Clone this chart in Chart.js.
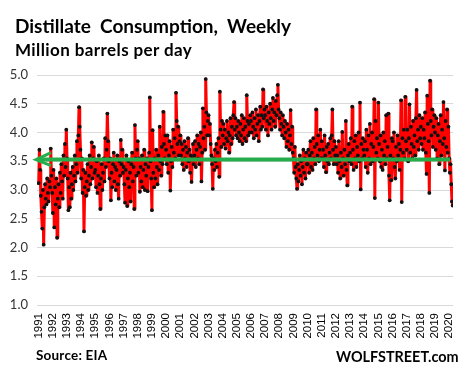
<!DOCTYPE html>
<html>
<head>
<meta charset="utf-8">
<script src="https://cdn.jsdelivr.net/npm/chart.js@4.4.1/dist/chart.umd.min.js"></script>
<style>
  html, body { margin: 0; padding: 0; background: #fff; }
  #wrap { position: relative; width: 471px; height: 374px; overflow: hidden; }
  #chart { position: absolute; left: 0; top: 0; }
  .txt { position: absolute; white-space: pre; font-family: Lato, "Open Sans", sans-serif; font-weight: bold; color: #000; line-height: 1; }
  #title { left: 15px; top: 15.5px; font-size: 19px; }
  #subtitle { left: 15px; top: 40.5px; font-size: 17px; letter-spacing: 0.4px; }
  #source { left: 36px; top: 348.5px; font-size: 13.5px; letter-spacing: 0.2px; }
  #brand { left: 336px; top: 349.5px; font-size: 14.4px; }
</style>
</head>
<body>
<div id="wrap">
  <canvas id="chart" width="471" height="374"></canvas>
  <div class="txt" id="title">Distillate  Consumption,  Weekly</div>
  <div class="txt" id="subtitle">Million barrels per day</div>
  <div class="txt" id="source">Source: EIA</div>
  <div class="txt" id="brand">WOLFSTREET.com</div>
</div>
<script>
// weekly distillate consumption, million b/d (~20 samples per year)
const d1991 = [3.12, 3.70, 3.35, 2.90, 2.62, 2.33, 3.00, 2.05, 2.70, 3.10, 2.85, 2.75, 3.20, 2.95, 2.80, 3.15, 3.05, 3.72, 3.25, 2.95];
const d1992 = [2.60, 3.35, 2.35, 3.05, 2.75, 3.20, 2.17, 2.85, 3.10, 2.70, 3.30, 2.95, 3.45, 3.15, 2.85, 3.60, 3.25, 3.80, 3.40, 4.05];
const d1993 = [3.55, 3.20, 2.65, 3.05, 2.70, 3.30, 2.85, 3.10, 3.40, 3.00, 3.25, 3.60, 3.15, 3.45, 3.85, 3.30, 3.95, 4.44, 4.10, 3.70];
const d1994 = [3.20, 3.55, 2.95, 3.35, 2.28, 3.05, 3.30, 2.90, 3.15, 3.45, 3.00, 3.25, 3.60, 3.10, 3.40, 3.83, 3.20, 3.55, 3.75, 3.30];
const d1995 = [3.35, 3.05, 3.50, 2.95, 3.25, 3.60, 3.10, 2.67, 3.20, 3.45, 3.00, 3.30, 3.55, 3.15, 3.90, 3.40, 3.70, 4.33, 3.85, 3.50];
const d1996 = [3.20, 3.55, 2.82, 3.30, 3.05, 3.45, 3.65, 3.15, 3.40, 3.00, 3.35, 3.60, 3.10, 2.85, 3.50, 3.25, 3.87, 3.45, 3.70, 3.30];
const d1997 = [3.40, 3.10, 2.78, 3.35, 3.60, 2.72, 3.20, 3.50, 3.05, 3.30, 2.80, 3.45, 3.65, 3.15, 3.40, 2.67, 4.13, 3.55, 3.25, 3.70];
const d1998 = [3.85, 3.30, 3.55, 2.97, 3.40, 3.15, 3.60, 3.05, 3.35, 3.70, 3.00, 3.45, 3.25, 3.55, 2.98, 3.40, 3.65, 4.61, 3.50, 3.20];
const d1999 = [2.65, 4.04, 3.30, 3.05, 3.55, 3.20, 3.70, 3.40, 3.10, 3.60, 3.35, 4.10, 3.50, 3.25, 3.75, 3.45, 4.36, 3.80, 3.55, 3.95];
const d2000 = [3.70, 3.45, 3.95, 3.30, 3.60, 3.85, 2.99, 3.50, 3.75, 3.40, 4.05, 3.65, 3.90, 3.55, 4.69, 4.20, 3.80, 4.10, 3.60, 3.85];
const d2001 = [3.95, 3.60, 3.80, 3.45, 3.70, 3.35, 3.85, 3.55, 3.75, 3.40, 3.65, 3.90, 3.50, 3.70, 3.30, 3.60, 3.14, 3.55, 3.80, 3.45];
const d2002 = [3.60, 3.85, 3.40, 3.70, 3.95, 3.55, 3.80, 3.45, 3.75, 4.00, 3.15, 3.65, 4.42, 3.90, 4.10, 3.70, 4.93, 4.35, 3.95, 4.20];
const d2003 = [4.30, 3.95, 4.15, 3.80, 3.60, 3.45, 3.02, 3.55, 3.35, 3.70, 3.50, 3.80, 3.40, 3.65, 3.90, 3.23, 4.71, 4.05, 3.75, 4.20];
const d2004 = [3.95, 4.15, 3.80, 4.05, 3.72, 3.90, 4.20, 3.85, 4.00, 3.65, 3.95, 4.25, 3.80, 4.10, 3.90, 4.30, 4.53, 4.05, 4.25, 3.95];
const d2005 = [4.10, 3.90, 4.20, 4.00, 3.85, 4.15, 3.95, 4.30, 3.80, 4.05, 4.25, 3.90, 4.10, 3.85, 4.65, 4.20, 3.95, 4.15, 4.00, 4.30];
const d2006 = [4.20, 4.00, 4.35, 4.10, 3.90, 4.25, 4.05, 4.40, 3.95, 4.15, 4.30, 3.85, 4.20, 4.45, 4.05, 4.30, 4.10, 4.75, 4.25, 4.40];
const d2007 = [4.30, 4.05, 4.45, 4.20, 3.95, 4.35, 4.15, 4.50, 4.25, 4.05, 4.40, 4.60, 4.20, 4.35, 4.10, 4.55, 4.30, 4.65, 4.83, 4.40];
const d2008 = [4.25, 4.05, 4.35, 4.15, 3.95, 4.30, 4.10, 3.90, 4.20, 4.00, 3.75, 4.15, 3.85, 4.05, 3.70, 3.95, 4.39, 3.80, 4.10, 3.65];
const d2009 = [3.55, 3.30, 3.75, 3.40, 3.20, 3.02, 3.45, 3.15, 3.35, 3.60, 3.25, 3.50, 3.10, 3.40, 3.70, 3.30, 3.55, 3.20, 3.65, 3.45];
const d2010 = [3.45, 3.70, 3.30, 3.60, 3.85, 3.40, 3.65, 3.35, 3.90, 3.55, 3.75, 3.45, 4.40, 3.80, 3.60, 3.95, 3.50, 3.70, 4.05, 3.55];
const d2011 = [3.85, 3.55, 3.70, 3.40, 3.95, 3.60, 3.31, 3.75, 3.50, 3.80, 3.45, 3.65, 3.90, 3.55, 3.95, 4.40, 3.70, 3.45, 3.85, 3.60];
const d2012 = [3.75, 3.45, 3.60, 3.30, 3.85, 3.50, 3.20, 3.65, 3.40, 4.01, 3.55, 3.25, 3.70, 3.45, 4.20, 3.35, 3.08, 3.60, 3.80, 3.50];
const d2013 = [3.65, 3.90, 3.45, 4.45, 3.70, 3.35, 3.85, 3.55, 3.95, 3.40, 3.75, 3.60, 4.00, 3.50, 4.52, 3.01, 3.80, 3.55, 3.90, 3.70];
const d2014 = [3.60, 3.85, 3.40, 4.05, 3.70, 3.30, 3.95, 3.55, 4.15, 3.45, 3.80, 4.00, 3.50, 3.75, 4.58, 2.86, 4.20, 3.65, 3.90, 3.55];
const d2015 = [4.52, 3.80, 3.50, 3.95, 3.40, 3.70, 3.35, 4.00, 3.60, 3.85, 3.45, 4.30, 3.55, 3.75, 4.33, 3.25, 2.82, 3.60, 3.17, 3.90];
const d2016 = [3.85, 3.55, 4.00, 3.40, 3.20, 3.75, 3.50, 3.95, 3.60, 3.80, 3.35, 3.70, 4.56, 2.79, 3.90, 3.65, 4.05, 3.55, 4.62, 3.85];
const d2017 = [3.70, 4.05, 3.50, 3.90, 4.49, 3.65, 4.10, 3.80, 3.55, 4.20, 3.75, 3.95, 3.60, 4.25, 4.74, 3.85, 4.05, 3.70, 4.30, 3.90];
const d2018 = [4.10, 3.80, 4.25, 3.70, 4.05, 3.90, 4.35, 3.65, 3.28, 4.64, 4.15, 3.85, 2.95, 4.90, 4.20, 3.95, 4.40, 3.75, 4.10, 4.30];
const d2019 = [4.00, 3.70, 4.25, 3.55, 3.95, 4.15, 3.45, 3.85, 4.30, 3.60, 4.05, 3.80, 4.53, 3.90, 3.34, 4.20, 3.75, 4.40, 3.65, 4.10];
const d2020 = [3.55, 3.30, 3.45, 3.10, 2.80, 2.73];

const years = [1991, 1992, 1993, 1994, 1995, 1996, 1997, 1998, 1999, 2000,
  2001, 2002, 2003, 2004, 2005, 2006, 2007, 2008, 2009, 2010,
  2011, 2012, 2013, 2014, 2015, 2016, 2017, 2018, 2019, 2020];
const yearlySeries = [d1991, d1992, d1993, d1994, d1995, d1996, d1997, d1998, d1999, d2000,
  d2001, d2002, d2003, d2004, d2005, d2006, d2007, d2008, d2009, d2010,
  d2011, d2012, d2013, d2014, d2015, d2016, d2017, d2018, d2019, d2020];
const yTicks = [1.0, 1.5, 2.0, 2.5, 3.0, 3.5, 4.0, 4.5, 5.0];
const avgLevel = 3.53;

const samplesPerYear = 20;
const points = [];
yearlySeries.forEach((values, i) => {
  const step = 1 / Math.max(values.length, samplesPerYear);
  values.forEach((v, k) => points.push({ x: years[i] + k * step, y: v }));
});

// green average line with an arrow head pointing left
const avgArrow = {
  id: 'avgArrow',
  afterDatasetsDraw(chart) {
    const { ctx, scales: { x, y } } = chart;
    const py = y.getPixelForValue(avgLevel);
    const x0 = x.left - 2;
    const x1 = x.right - 3;
    ctx.save();
    ctx.strokeStyle = '#25ad4b';
    ctx.lineWidth = 4;
    ctx.beginPath();
    ctx.moveTo(x0 + 2, py);
    ctx.lineTo(x1, py);
    ctx.stroke();
    ctx.lineWidth = 3;
    ctx.beginPath();
    ctx.moveTo(x0 + 16, py - 7);
    ctx.lineTo(x0 + 1, py);
    ctx.lineTo(x0 + 16, py + 6);
    ctx.stroke();
    ctx.restore();
  },
};

new Chart(document.getElementById('chart'), {
  type: 'line',
  data: {
    datasets: [
      {
        data: points,
        borderColor: '#ff0000',
        borderWidth: 3,
        borderJoinStyle: 'round',
        pointRadius: 1.9,
        pointBackgroundColor: '#111',
        pointBorderWidth: 0,
        tension: 0,
      },
    ],
  },
  options: {
    responsive: false,
    animation: false,
    layout: { padding: { top: 75, right: 5, left: 0, bottom: 0 } },
    plugins: { legend: { display: false }, tooltip: { enabled: false } },
    scales: {
      x: {
        type: 'linear',
        min: 1990.88,
        max: 2020.28,
        grid: { display: false, drawTicks: false },
        border: { display: false },
        afterBuildTicks: (scale) => {
          scale.ticks = years.map((v) => ({ value: v }));
        },
        afterFit: (scale) => {
          scale.height = 69;
        },
        ticks: {
          autoSkip: false,
          minRotation: 90,
          maxRotation: 90,
          padding: 8,
          color: '#000',
          font: { family: '"Liberation Sans", Arial, sans-serif', size: 11.5 },
          callback: (v) => String(v),
        },
      },
      y: {
        min: 1.0,
        max: 5.0,
        afterBuildTicks: (scale) => {
          scale.ticks = yTicks.map((v) => ({ value: v }));
        },
        afterFit: (scale) => {
          scale.width = 37;
        },
        grid: { color: '#d9d9d9', lineWidth: 1, drawTicks: false },
        border: { display: false },
        ticks: {
          padding: 9,
          color: '#333',
          font: { family: 'Lato, sans-serif', size: 13 },
          callback: (v) => v.toFixed(1),
        },
      },
    },
  },
  plugins: [avgArrow],
});
</script>
</body>
</html>
